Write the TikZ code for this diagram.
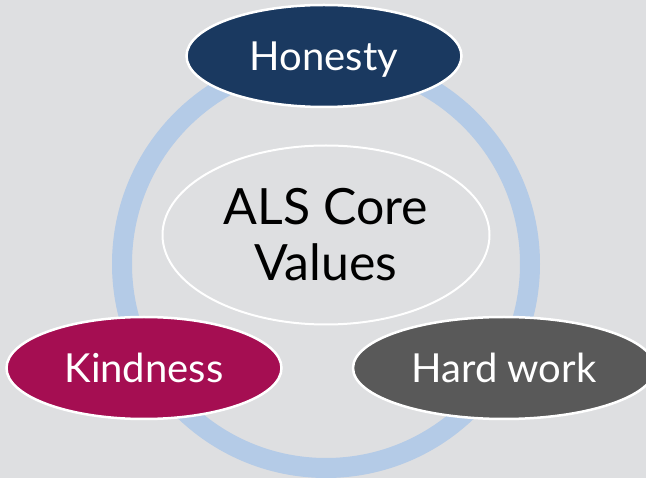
\documentclass[tikz,border=0pt]{standalone}
\usepackage{fontspec}
\setmainfont{Lato}
\usetikzlibrary{shapes.geometric}
\definecolor{bggrey}{HTML}{DEDFE1}
\definecolor{ringblue}{HTML}{B4CBE7}
\definecolor{honestyblue}{HTML}{1A3960}
\definecolor{kindred}{HTML}{A50E52}
\definecolor{workgrey}{HTML}{595959}
\tikzset{value/.style={ellipse, draw=white, line width=2.5pt, inner sep=0pt,
    minimum width=275pt, minimum height=102pt, text=white,
    font=\fontsize{40}{48}\selectfont, text height=28.7pt, text depth=0pt},
  core/.style={ellipse, draw=white, line width=2pt, inner sep=0pt, fill=bggrey,
    minimum width=327pt, minimum height=179pt, align=center,
    font=\fontsize{50}{56}\selectfont}}

\begin{document}
\begin{tikzpicture}[x=1pt,y=-1pt]
  \useasboundingbox (0,0) rectangle (646,478);
  \clip (0,0) rectangle (646,478);
  \fill[bggrey] (0,0) rectangle (646,478);
  \draw[ringblue,line width=20pt] (326,264) circle[radius=204pt];
  \node[core] (core) at (326,235) {ALS Core\\Values};
  \node[value,fill=honestyblue] (honesty) at (324,56) {Honesty};
  \node[value,fill=kindred] (kindness) at (144,368) {Kindness};
  \node[value,fill=workgrey,minimum width=302pt] (hardwork) at (504,368) {Hard work};
\end{tikzpicture}
\end{document}
